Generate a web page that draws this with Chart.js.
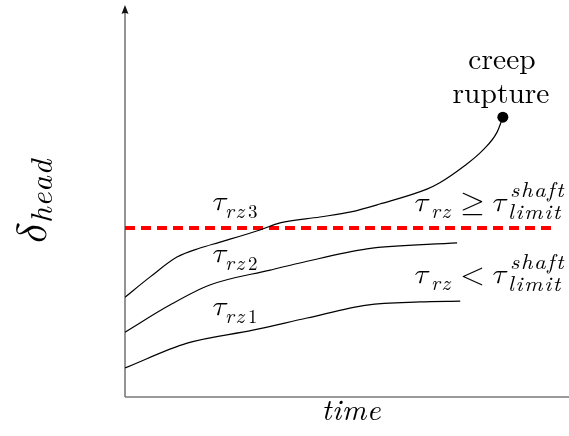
<!DOCTYPE html>
<html>
<head>
<meta charset="utf-8">
<script src="https://cdn.jsdelivr.net/npm/chart.js@4/dist/chart.umd.min.js"></script>
<style>
  html, body { margin: 0; padding: 0; background: #ffffff; }
  #wrap { width: 569px; height: 436px; }
</style>
</head>
<body>
<div id="wrap"><canvas id="c" width="569" height="436"></canvas></div>
<script>
// Head displacement vs. time for three shaft shear stress levels
const rz1Time = [0, 14.0, 28.8, 41.0, 54.5, 66.4, 75.5];
const rz1Head = [7.4, 13.7, 17.0, 20.1, 23.4, 24.2, 24.4];

const rz2Time = [0, 10.1, 19.1, 32.7, 39.4, 54.5, 74.8];
const rz2Head = [16.5, 23.4, 28.5, 32.3, 34.1, 37.7, 39.2];

const rz3Time = [0, 5.6, 11.7, 16.9, 21.4, 30.4, 34.9, 43.9, 50.9, 57.4, 68.0, 70.9, 76.1, 80.6, 83.8, 85.1];
const rz3Head = [25.4, 30.5, 35.6, 37.9, 39.4, 42.5, 44.3, 45.8, 47.1, 49.1, 52.9, 54.5, 58.5, 62.8, 67.4, 71.2];

// shaft limit threshold (horizontal) and the rupture point at the end of curve 3
const limitTime = [0, 97.3];
const limitHead = [43.0, 43.0];
const ruptureTime = [85.1];
const ruptureHead = [71.2];

const toPts = (xs, ys) => xs.map((x, i) => ({ x: x, y: ys[i] }));

const SERIF = '"Latin Modern Roman", "Liberation Serif", serif';
const GREEK = '"Latin Modern Math", "Liberation Serif", "Times New Roman", serif';

// draws a string, optionally rotated and with extra spacing between characters
function drawText(ctx, s, x, y, opt) {
  const o = Object.assign({ size: 26, italic: false, align: 'left', sx: 1, ls: 0, fam: SERIF }, opt || {});
  ctx.save();
  ctx.font = (o.italic ? 'italic ' : '') + 'normal ' + o.size + 'px ' + o.fam;
  ctx.textBaseline = 'alphabetic';
  ctx.textAlign = 'left';
  ctx.fillStyle = '#000000';
  const chars = Array.from(s);
  const widths = chars.map(ch => ctx.measureText(ch).width);
  const total = widths.reduce((a, b) => a + b, 0) + o.ls * (chars.length - 1);
  ctx.translate(x, y);
  if (o.rot) ctx.rotate(o.rot);
  ctx.scale(o.sx, 1);
  let cx = o.align === 'center' ? -total / 2 : (o.align === 'right' ? -total : 0);
  chars.forEach((ch, i) => {
    ctx.fillText(ch, cx, 0);
    cx += widths[i] + o.ls;
  });
  ctx.restore();
}

// axis lines with an arrow on the vertical axis
const axesPlugin = {
  id: 'axesLines',
  beforeDatasetsDraw(chart) {
    const ctx = chart.ctx, a = chart.chartArea;
    ctx.save();
    ctx.strokeStyle = '#7a7a7a';
    ctx.lineWidth = 1.6;
    ctx.beginPath();
    ctx.moveTo(a.left, a.bottom);
    ctx.lineTo(chart.width, a.bottom);
    ctx.moveTo(a.left, a.bottom);
    ctx.lineTo(a.left, a.top + 8);
    ctx.stroke();
    ctx.fillStyle = '#111111';
    ctx.beginPath();
    ctx.moveTo(a.left, a.top + 1);
    ctx.lineTo(a.left - 3.5, a.top + 10);
    ctx.quadraticCurveTo(a.left, a.top + 8, a.left + 3.5, a.top + 10);
    ctx.closePath();
    ctx.fill();
    ctx.restore();
  }
};

// text annotations
const labelsPlugin = {
  id: 'mathLabels',
  afterDatasetsDraw(chart) {
    const ctx = chart.ctx;
    const tau = { size: 28, italic: true, sx: 1.05, fam: GREEK };
    const sub = { size: 20, italic: true, sx: 1.05, ls: 1.5 };
    const subUp = { size: 19, italic: false };

    // curve labels
    [['3', 210], ['2', 262], ['1', 315]].forEach(([n, base]) => {
      drawText(ctx, 'τ', 211, base, tau);
      drawText(ctx, 'rz', 225, base + 8, sub);
      drawText(ctx, n, 248, base + 8, subUp);
    });

    // threshold relations
    [['≥', 211], ['<', 283]].forEach(([rel, base]) => {
      drawText(ctx, 'τ', 413, base, tau);
      drawText(ctx, 'rz', 431, base + 7, sub);
      drawText(ctx, rel, 472.5, base + 1, { size: 30, align: 'center', fam: GREEK, sx: 1.05 });
      drawText(ctx, 'τ', 491, base, tau);
      drawText(ctx, 'shaft', 510, base - 14, { size: 21, italic: true, sx: 1.08, ls: 1.5 });
      drawText(ctx, 'limit', 508, base + 8, { size: 21, italic: true, sx: 1.08, ls: 1.5 });
    });

    // rupture annotation
    drawText(ctx, 'creep', 502, 69, { size: 29.5, align: 'center' });
    drawText(ctx, 'rupture', 501, 103, { size: 29.5, align: 'center' });

    // axis titles
    drawText(ctx, 'time', 351, 420, { size: 30, italic: true, align: 'center', ls: 0.5 });
    drawText(ctx, 'δ', 46, 246, { size: 42, italic: true, sx: 1.05, rot: -Math.PI / 2, fam: GREEK });
    drawText(ctx, 'head', 52, 223, { size: 31, italic: true, rot: -Math.PI / 2, ls: 0.5 });
  }
};

const curveStyle = {
  borderColor: '#000000',
  borderWidth: 1.2,
  pointRadius: 0,
  fill: false,
  cubicInterpolationMode: 'monotone'
};

const chart = new Chart(document.getElementById('c'), {
  type: 'line',
  data: {
    datasets: [
      Object.assign({ label: 'τrz1', data: toPts(rz1Time, rz1Head) }, curveStyle),
      Object.assign({ label: 'τrz2', data: toPts(rz2Time, rz2Head) }, curveStyle),
      Object.assign({ label: 'τrz3', data: toPts(rz3Time, rz3Head) }, curveStyle),
      {
        label: 'limit',
        data: toPts(limitTime, limitHead),
        borderColor: '#ff0000',
        borderWidth: 4,
        borderDash: [10, 6],
        borderCapStyle: 'butt',
        pointRadius: 0,
        fill: false
      },
      {
        label: 'creep rupture',
        data: toPts(ruptureTime, ruptureHead),
        showLine: false,
        pointRadius: 5.5,
        pointBackgroundColor: '#000000',
        pointBorderColor: '#000000',
        pointBorderWidth: 0
      }
    ]
  },
  options: {
    responsive: false,
    animation: false,
    devicePixelRatio: 1,
    layout: { autoPadding: false, padding: { left: 125, right: 0, top: 4, bottom: 39 } },
    plugins: { legend: { display: false }, tooltip: { enabled: false } },
    scales: {
      x: { type: 'linear', min: 0, max: 100, display: false },
      y: { type: 'linear', min: 0, max: 100, display: false }
    }
  },
  plugins: [axesPlugin, labelsPlugin]
});

// redraw once the local fonts are ready so the labels use them
if (document.fonts && document.fonts.load) {
  Promise.all([
    document.fonts.load('italic 28px "Latin Modern Math"', 'τδ'),
    document.fonts.load('italic 28px "Latin Modern Roman"'),
    document.fonts.load('28px "Latin Modern Roman"')
  ]).then(() => chart.render()).catch(() => chart.render());
}
</script>
</body>
</html>
